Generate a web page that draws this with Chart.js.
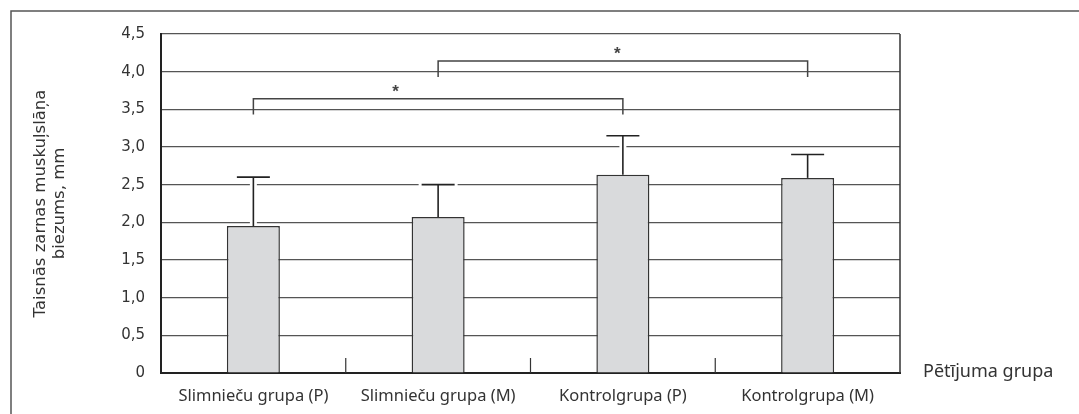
<!DOCTYPE html>
<html><head><meta charset="utf-8">
<script src="https://cdn.jsdelivr.net/npm/chart.js@4/dist/chart.umd.min.js"></script>
<style>html,body{margin:0;padding:0;background:#fff}#wrap{width:1079px;height:414px;position:relative}</style>
</head><body><div id="wrap"><canvas id="c" width="1079" height="414"></canvas></div>
<script>
const categories = ['Slimnieču grupa (P)', 'Slimnieču grupa (M)', 'Kontrolgrupa (P)', 'Kontrolgrupa (M)'];
const means = [1.95, 2.07, 2.63, 2.59];
const errorTops = [2.60, 2.50, 3.15, 2.90];
const yMin = 0, yMax = 4.5, yStep = 0.5;
const yAxisTitle = ['Taisnās zarnas muskuļslāņa', 'biezums, mm'];
const xAxisTitle = 'Pētījuma grupa';
const sigPairs = [[0, 2], [1, 3]];
const sigBarLevels = [3.64, 4.14];
const sigLegLevels = [3.43, 3.93];
const sigStarX = [0.77, 1.97];
const sigStarY = [3.77, 4.28];
const sigLabels = ['*', '*'];

const CAP_HALF = 16.5;

const annot = {
  id: 'annot',
  beforeDatasetsDraw(chart) {
    const ctx = chart.ctx, ys = chart.scales.y;
    const meta = chart.getDatasetMeta(0);
    ctx.save();
    ctx.strokeStyle = '#fff'; ctx.lineCap = 'butt';
    meta.data.forEach((bar, i) => {
      const top = ys.getPixelForValue(errorTops[i]);
      ctx.lineWidth = 7;
      ctx.beginPath(); ctx.moveTo(bar.x, bar.y); ctx.lineTo(bar.x, top - 1); ctx.stroke();
      ctx.lineWidth = 5;
      ctx.beginPath(); ctx.moveTo(bar.x - CAP_HALF - 3, top); ctx.lineTo(bar.x + CAP_HALF + 3, top); ctx.stroke();
    });
    ctx.restore();
  },
  afterDatasetsDraw(chart) {
    const ctx = chart.ctx, xs = chart.scales.x, ys = chart.scales.y, ca = chart.chartArea;
    const meta = chart.getDatasetMeta(0);
    ctx.save();
    ctx.strokeStyle = '#222'; ctx.lineWidth = 1.6;
    meta.data.forEach((bar, i) => {
      const top = ys.getPixelForValue(errorTops[i]);
      ctx.beginPath(); ctx.moveTo(bar.x, bar.y); ctx.lineTo(bar.x, top); ctx.stroke();
      ctx.beginPath(); ctx.moveTo(bar.x - CAP_HALF, top); ctx.lineTo(bar.x + CAP_HALF, top); ctx.stroke();
    });
    ctx.strokeStyle = '#333'; ctx.lineWidth = 1.2;
    for (let i = 1; i < categories.length; i++) {
      const px = (xs.getPixelForValue(i - 1) + xs.getPixelForValue(i)) / 2;
      ctx.beginPath(); ctx.moveTo(px, ca.bottom); ctx.lineTo(px, ca.bottom - 15); ctx.stroke();
    }
    ctx.strokeStyle = '#333'; ctx.lineWidth = 1.5;
    ctx.beginPath(); ctx.moveTo(ca.right, ca.top); ctx.lineTo(ca.right, ca.bottom); ctx.stroke();
    ctx.strokeStyle = '#444'; ctx.lineWidth = 1.5;
    sigPairs.forEach((p, k) => {
      const x1 = xs.getPixelForValue(p[0]), x2 = xs.getPixelForValue(p[1]);
      const yb = ys.getPixelForValue(sigBarLevels[k]), yl = ys.getPixelForValue(sigLegLevels[k]);
      ctx.beginPath(); ctx.moveTo(x1, yl); ctx.lineTo(x1, yb); ctx.lineTo(x2, yb); ctx.lineTo(x2, yl); ctx.stroke();
      ctx.fillStyle = '#444'; ctx.font = 'bold 17px "Liberation Sans", Arial, sans-serif';
      ctx.textAlign = 'center'; ctx.textBaseline = 'alphabetic';
      ctx.fillText(sigLabels[k], xs.getPixelForValue(sigStarX[k]), ys.getPixelForValue(sigStarY[k]) + 8.5);
    });
    ctx.fillStyle = '#333'; ctx.font = '18px "Noto Sans", sans-serif';
    ctx.textAlign = 'left'; ctx.textBaseline = 'middle';
    ctx.fillText(xAxisTitle, 923, ca.bottom - 1);
    ctx.strokeStyle = '#555'; ctx.lineWidth = 1.5;
    ctx.beginPath(); ctx.moveTo(11, 414); ctx.lineTo(11, 11); ctx.lineTo(1079, 11); ctx.stroke();
    ctx.restore();
  }
};

new Chart(document.getElementById('c'), {
  type: 'bar',
  data: {
    labels: categories,
    datasets: [{
      data: means,
      backgroundColor: '#d9dadc',
      borderColor: '#333',
      borderWidth: 1.5,
      categoryPercentage: 1,
      barPercentage: 0.287
    }]
  },
  options: {
    responsive: false,
    animation: false,
    devicePixelRatio: 1,
    layout: { padding: { left: 0, top: 34, right: 179, bottom: 0 } },
    plugins: { legend: { display: false }, tooltip: { enabled: false } },
    scales: {
      x: {
        grid: { display: false, drawTicks: false },
        border: { display: true, color: '#222', width: 2 },
        ticks: { color: '#333', padding: 13, font: { family: '"Noto Sans", sans-serif', size: 16.5 }, maxRotation: 0 },
        afterFit(s) { s.height = 41; }
      },
      y: {
        min: yMin, max: yMax,
        grid: { color: '#555', lineWidth: 1.2, drawTicks: false },
        border: { display: true, color: '#222', width: 2 },
        ticks: {
          stepSize: yStep, padding: 16, color: '#333',
          font: { family: '"DejaVu Sans", sans-serif', size: 15 },
          callback: v => v === 0 ? '0' : v.toFixed(1).replace('.', ',')
        },
        title: {
          display: true, text: yAxisTitle, color: '#333',
          font: { family: '"DejaVu Sans", sans-serif', size: 16.5, lineHeight: 1.15 },
          padding: { top: 31.5, bottom: 0 }
        },
        afterFit(s) { s.width = 161; }
      }
    }
  },
  plugins: [annot]
});
</script>
</body></html>
